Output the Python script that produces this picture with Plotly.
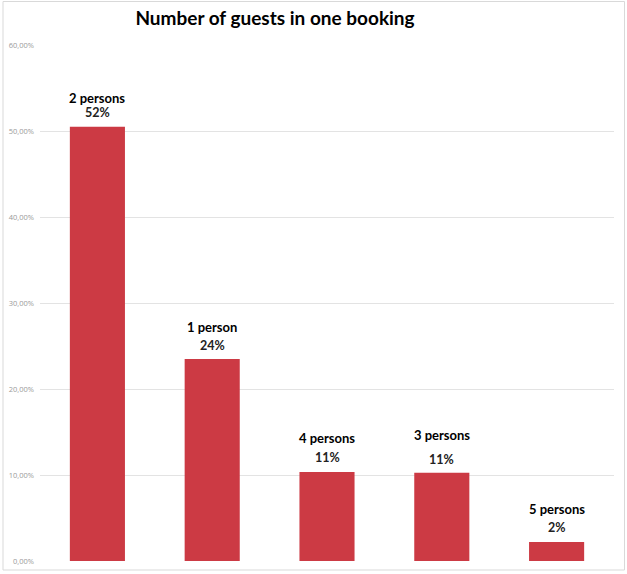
import plotly.graph_objects as go

categories = ["2 persons", "1 person", "4 persons", "3 persons", "5 persons"]
shares = [50.5, 23.5, 10.35, 10.25, 2.2]
pct_labels = ["52%", "24%", "11%", "11%", "2%"]
tick_vals = [0, 10, 20, 30, 40, 50, 60]
tick_text = ["0,00%", "10,00%", "20,00%", "30,00%", "40,00%", "50,00%", "60,00%"]

W, H = 627, 574
L, R, T, B = 40, 13, 45, 13
pw, ph = W - L - R, H - T - B

fig = go.Figure()
fig.add_trace(go.Bar(
    x=categories, y=shares, marker_color="#cc3a44", width=0.48,
    marker_line_width=0, hoverinfo="skip",
))

name_shift = [29, 32, 34, 38, 33]
pct_shift = [14, 13, 14, 13, 15]
for c, v, p, s, q in zip(categories, shares, pct_labels, name_shift, pct_shift):
    fig.add_annotation(x=c, y=v, text="<b>%s</b>" % p, showarrow=False,
                       yanchor="middle", yshift=q,
                       font=dict(family="Lato, Arial", size=12.5, color="#222"))
    fig.add_annotation(x=c, y=v, text="<b>%s</b>" % c, showarrow=False,
                       yanchor="middle", yshift=s,
                       font=dict(family="Lato, Arial", size=13, color="#000"))

# outer light border
fig.add_shape(type="rect", xref="paper", yref="paper",
              x0=(3 - L) / pw, x1=(624.5 - L) / pw,
              y0=(H - B - 570) / ph, y1=(H - B - 1.5) / ph,
              line=dict(color="#d9d9d9", width=1), fillcolor="rgba(0,0,0,0)",
              layer="below")

fig.update_layout(
    width=W, height=H,
    margin=dict(l=L, r=R, t=T, b=B, autoexpand=False),
    paper_bgcolor="white", plot_bgcolor="white",
    showlegend=False,
    title=dict(text="<b>Number of guests in one booking</b>",
               x=(275) / W, xanchor="center", y=1 - 18 / H, yanchor="middle",
               font=dict(family="Lato, Arial", size=19, color="#000")),
    xaxis=dict(showticklabels=False, showgrid=False, zeroline=False,
               showline=False, ticks="", automargin=False),
    yaxis=dict(range=[0, 60], tickvals=tick_vals, ticktext=tick_text,
               showgrid=True, gridcolor="#e3e3e3", gridwidth=1,
               zeroline=False, showline=False, ticks="", automargin=False,
               tickfont=dict(family="Open Sans, Arial", size=7.5, color="#9a9a9a"),
               ticklabelstandoff=5),
)

fig.write_html("out.html")
